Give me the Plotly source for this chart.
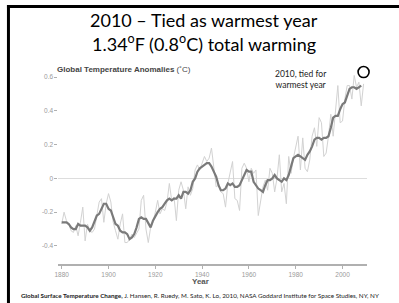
import plotly.graph_objects as go

years = list(range(1880, 2010))
annual = [
    -0.27, -0.20, -0.25, -0.27, -0.31, -0.32, -0.28, -0.34, -0.26, -0.17,
    -0.37, -0.27, -0.31, -0.32, -0.30, -0.23, -0.14, -0.12, -0.26, -0.15,
    -0.09, -0.14, -0.26, -0.31, -0.36, -0.27, -0.21, -0.38, -0.38, -0.36,
    -0.33, -0.35, -0.32, -0.30, -0.13, -0.10, -0.30, -0.38, -0.29, -0.26,
    -0.20, -0.13, -0.21, -0.18, -0.19, -0.14, -0.03, -0.13, -0.11, -0.25,
    -0.07, -0.02, -0.07, -0.18, -0.05, -0.10, -0.06, 0.05, 0.08, 0.05,
    0.09, 0.13, 0.10, 0.12, 0.18, 0.06, -0.05, -0.04, -0.08, -0.09,
    -0.17, -0.03, 0.04, 0.10, -0.12, -0.13, -0.19, 0.06, 0.09, 0.06,
    -0.02, 0.06, 0.03, 0.05, -0.22, -0.12, -0.05, -0.01, -0.07, 0.06,
    0.03, -0.08, 0.00, 0.14, -0.08, -0.03, -0.15, 0.13, 0.03, 0.12,
    0.18, 0.25, 0.05, 0.24, 0.06, 0.04, 0.11, 0.25, 0.30, 0.19,
    0.36, 0.33, 0.13, 0.15, 0.25, 0.38, 0.25, 0.40, 0.55, 0.33,
    0.34, 0.47, 0.55, 0.55, 0.47, 0.61, 0.54, 0.57, 0.43, 0.56,
]

smooth_years = list(range(1880, 2009))
smooth = [
    -0.26, -0.26, -0.26, -0.27, -0.29, -0.30, -0.30, -0.27, -0.28, -0.28,
    -0.28, -0.29, -0.31, -0.29, -0.26, -0.22, -0.21, -0.18, -0.15, -0.15,
    -0.18, -0.19, -0.23, -0.27, -0.28, -0.31, -0.32, -0.32, -0.33, -0.36,
    -0.35, -0.33, -0.29, -0.24, -0.23, -0.24, -0.24, -0.27, -0.29, -0.25,
    -0.22, -0.20, -0.18, -0.17, -0.15, -0.13, -0.12, -0.13, -0.12, -0.12,
    -0.10, -0.12, -0.08, -0.08, -0.09, -0.07, -0.02, 0.00, 0.04, 0.06,
    0.07, 0.08, 0.09, 0.09, 0.07, 0.04, 0.01, -0.04, -0.07, -0.07,
    -0.06, -0.03, -0.04, -0.03, -0.05, -0.05, -0.04, -0.01, 0.02, 0.05,
    0.04, 0.04, -0.02, -0.04, -0.06, -0.07, -0.08, -0.04, -0.01, -0.01,
    0.00, 0.02, 0.00, -0.01, -0.02, 0.00, -0.01, 0.02, 0.07, 0.12,
    0.13, 0.14, 0.13, 0.12, 0.11, 0.14, 0.16, 0.19, 0.23, 0.24,
    0.24, 0.23, 0.24, 0.24, 0.25, 0.30, 0.36, 0.37, 0.37, 0.41,
    0.44, 0.45, 0.49, 0.53, 0.54, 0.54, 0.53, 0.54, 0.55,
]

record_year = [2009]
record_value = [0.63]

x_ticks = [1880, 1900, 1920, 1940, 1960, 1980, 2000]
y_ticks = [-0.4, -0.2, 0, 0.2, 0.4, 0.6]
y_tick_text = ["-0.4", "-0.2", "0", "0.2", "0.4", "0.6"]

W, H = 399, 303
fig = go.Figure()
fig.add_trace(go.Scatter(x=years, y=annual, mode="lines",
                         line=dict(color="#d2d2d2", width=1), hoverinfo="skip"))
fig.add_trace(go.Scatter(x=smooth_years, y=smooth, mode="lines",
                         line=dict(color="#7a7a7a", width=2.2), hoverinfo="skip"))
fig.add_trace(go.Scatter(x=record_year, y=record_value, mode="markers",
                         marker=dict(size=11, color="rgba(0,0,0,0)",
                                     line=dict(color="black", width=1.6)),
                         cliponaxis=False, hoverinfo="skip"))

fig.update_layout(
    width=W, height=H, margin=dict(l=0, r=0, t=0, b=0),
    paper_bgcolor="white", plot_bgcolor="white", showlegend=False,
    hovermode=False,
    xaxis=dict(domain=[55 / W, 367 / W], range=[1878.6, 2010.6],
               tickvals=x_ticks, ticks="outside", ticklen=3, tickcolor="#b0b0b0",
               showline=True, linecolor="#b0b0b0", linewidth=2,
               showgrid=False, zeroline=False,
               tickfont=dict(family="Liberation Sans", size=6.5, color="#9a9a9a")),
    yaxis=dict(domain=[1 - 264 / H, 1 - 67 / H], range=[-0.507, 0.66],
               tickvals=y_ticks, ticktext=y_tick_text, ticks="outside", ticklen=3,
               tickcolor="#b0b0b0", showline=False, showgrid=False,
               zeroline=True, zerolinecolor="#dddddd", zerolinewidth=1,
               tickfont=dict(family="Liberation Sans", size=6.5, color="#9a9a9a")),
)

def px(x):
    return x / W

def py(y):
    return 1 - y / H

ann = [
    dict(text="2010 \u2013 Tied as warmest year", x=px(202), y=py(20),
         font=dict(family="Lato", size=18, color="black")),
    dict(text="1.34<sup>o</sup>F (0.8<sup>o</sup>C) total warming", x=px(202), y=py(43),
         font=dict(family="Lato", size=18, color="black")),
    dict(text="<b>Global Temperature Anomalies</b> (\u02daC)", x=px(52), y=py(69), xanchor="left",
         font=dict(family="Liberation Sans", size=8, color="#444444")),
    dict(text="2010, tied for<br>warmest year", x=px(300), y=py(80),
         font=dict(family="Lato", size=8.5, color="#222222")),
    dict(text="<b>Year</b>", x=px(198), y=py(281),
         font=dict(family="Liberation Sans", size=8, color="#555555")),
    dict(text="<b>Global Surface Temperature Change,</b> J. Hansen, R. Ruedy, M. Sato, K. Lo, 2010, NASA Goddard Institute for Space Studies, NY, NY",
         x=px(15), y=py(295), xanchor="left",
         font=dict(family="Lato", size=6.3, color="#222222")),
]
for a in ann:
    a.setdefault("xanchor", "center")
    fig.add_annotation(xref="paper", yref="paper", showarrow=False, yanchor="middle", **a)

fig.add_shape(type="line", xref="paper", yref="paper", x0=px(3), x1=1, y0=py(6.5), y1=py(6.5),
              line=dict(color="black", width=3))
fig.add_shape(type="line", xref="paper", yref="paper", x0=px(4.5), x1=px(4.5), y0=py(5), y1=0,
              line=dict(color="black", width=3))

fig.write_html("out.html", config={"displayModeBar": False, "staticPlot": True},
               post_script="document.body.style.margin='0';document.body.style.overflow='hidden';")
